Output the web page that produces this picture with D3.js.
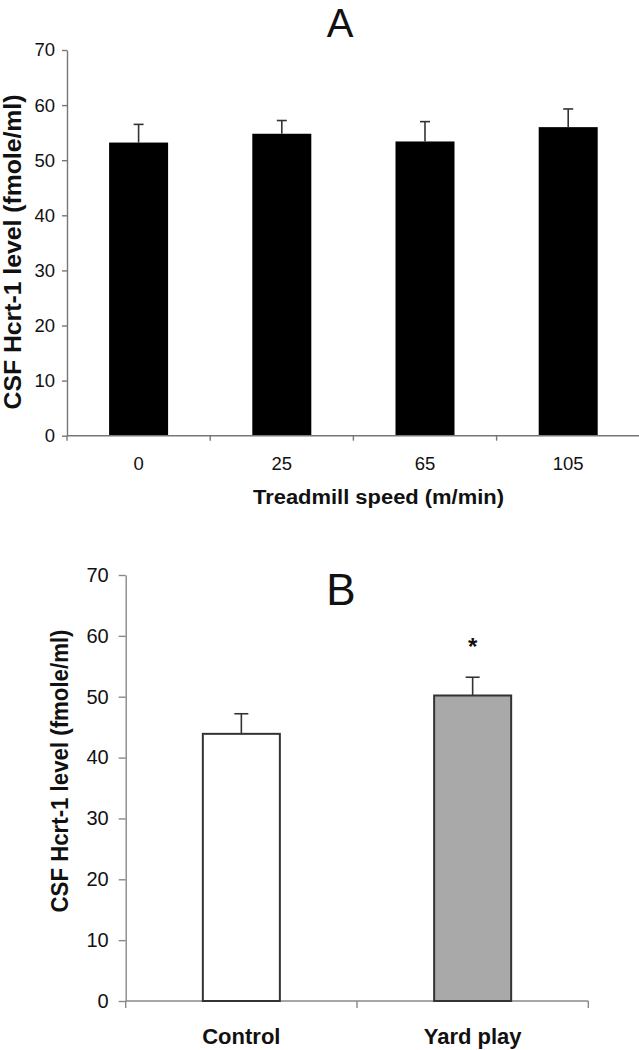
<!DOCTYPE html>
<html>
<head>
<meta charset="utf-8">
<script src="https://cdn.jsdelivr.net/npm/d3@7"></script>
<style>
  html, body { margin: 0; padding: 0; background: #fff; }
  svg { display: block; }
  text { font-family: "Liberation Sans", Arial, sans-serif; fill: #111; }
</style>
</head>
<body>
<svg id="chart" width="639" height="1050"></svg>
<script>
// ---- data ----
const categoriesA = ["0", "25", "65", "105"];
const meansA = [53.2, 54.8, 53.4, 56.0];
const semA = [3.3, 2.4, 3.6, 3.3];

const categoriesB = ["Control", "Yard play"];
const meansB = [43.9, 50.2];
const semB = [3.3, 3.0];
const significantB = [false, true];

const yTickValues = [0, 10, 20, 30, 40, 50, 60, 70];
const yLabel = "CSF Hcrt-1 level (fmole/ml)";
const xLabelA = "Treadmill speed (m/min)";

// ---- styles ----
const fillA = "#000";
const fillsB = ["#ffffff", "#a9a9a9"];
const axisColor = "#777";

const svg = d3.select("#chart");

// ===== Panel A =====
const yA = d3.scaleLinear().domain([0, 70]).range([435.7, 50]);
const innerA = 0.588;
const xA = d3.scaleBand().domain(categoriesA).range([67, 639.8])
  .paddingInner(innerA).paddingOuter(innerA / 2);
const gA = svg.append("g");

gA.append("text").attr("x", 340).attr("y", 37).attr("text-anchor", "middle")
  .style("font-size", "40px").text("A");

// y axis
const yAxisA = gA.append("g").attr("transform", "translate(67,0)")
  .call(d3.axisLeft(yA).tickValues(yTickValues).tickSize(5).tickSizeOuter(0).tickPadding(7));
yAxisA.selectAll("path,line").attr("stroke", axisColor).attr("stroke-width", 1.4);
yAxisA.selectAll("text").style("font-size", "18.5px").attr("fill", "#111");

// bars
gA.selectAll("rect.barA").data(categoriesA).join("rect")
  .attr("x", d => xA(d)).attr("width", xA.bandwidth())
  .attr("y", (d, i) => yA(meansA[i]))
  .attr("height", (d, i) => yA(0) - yA(meansA[i]))
  .attr("fill", fillA);

// error bars
categoriesA.forEach((d, i) => {
  const cx = xA(d) + xA.bandwidth() / 2;
  gA.append("line").attr("x1", cx).attr("x2", cx)
    .attr("y1", yA(meansA[i])).attr("y2", yA(meansA[i] + semA[i]))
    .attr("stroke", "#333").attr("stroke-width", 1.6);
  gA.append("line").attr("x1", cx - 5).attr("x2", cx + 5)
    .attr("y1", yA(meansA[i] + semA[i])).attr("y2", yA(meansA[i] + semA[i]))
    .attr("stroke", "#333").attr("stroke-width", 1.6);
});

// x axis
const stepA = xA.step();
const xAxisA = gA.append("g").attr("transform", `translate(0,${yA(0)})`);
xAxisA.append("line").attr("x1", xA.range()[0]).attr("x2", xA.range()[1])
  .attr("stroke", axisColor).attr("stroke-width", 1.4);
d3.range(categoriesA.length + 1).forEach(i => {
  const bx = xA.range()[0] + i * stepA;
  xAxisA.append("line").attr("x1", bx).attr("x2", bx).attr("y1", 0).attr("y2", 5)
    .attr("stroke", axisColor).attr("stroke-width", 1.4);
});
xAxisA.call(g => g.selectAll("text.tl").data(categoriesA).join("text")
  .attr("class", "tl")
  .attr("x", d => xA(d) + xA.bandwidth() / 2).attr("y", 34)
  .attr("text-anchor", "middle").style("font-size", "18.5px").text(d => d));

gA.append("text").attr("x", 378.5).attr("y", 504).attr("text-anchor", "middle")
  .style("font-size", "20px").style("font-weight", "bold")
  .attr("textLength", 251).attr("lengthAdjust", "spacingAndGlyphs")
  .text(xLabelA);

gA.append("text").attr("transform", "translate(21,252) rotate(-90)")
  .attr("text-anchor", "middle").style("font-size", "23px").style("font-weight", "bold")
  .attr("textLength", 315).attr("lengthAdjust", "spacingAndGlyphs")
  .text(yLabel);

// ===== Panel B =====
const yB = d3.scaleLinear().domain([0, 70]).range([1001, 575]);
const innerB = 0.667;
const xB = d3.scaleBand().domain(categoriesB).range([125.7, 588.3])
  .paddingInner(innerB).paddingOuter(innerB / 2);
const gB = svg.append("g");

gB.append("text").attr("x", 341).attr("y", 605).attr("text-anchor", "middle")
  .style("font-size", "44px").text("B");

const yAxisB = gB.append("g").attr("transform", "translate(125.7,0)")
  .call(d3.axisLeft(yB).tickValues(yTickValues).tickSize(7).tickSizeOuter(0).tickPadding(10));
yAxisB.selectAll("path,line").attr("stroke", "#888").attr("stroke-width", 1.4);
yAxisB.selectAll("text").style("font-size", "20px").attr("fill", "#111");

// x axis B
const stepB = xB.step();
const xAxisB = gB.append("g").attr("transform", `translate(0,${yB(0)})`);
xAxisB.append("line").attr("x1", xB.range()[0]).attr("x2", xB.range()[1])
  .attr("stroke", "#888").attr("stroke-width", 1.4);
d3.range(categoriesB.length + 1).forEach(i => {
  const bx = xB.range()[0] + i * stepB;
  xAxisB.append("line").attr("x1", bx).attr("x2", bx).attr("y1", 0).attr("y2", 7)
    .attr("stroke", "#888").attr("stroke-width", 1.4);
});

// bars B
gB.selectAll("rect.barB").data(categoriesB).join("rect")
  .attr("x", d => xB(d)).attr("width", xB.bandwidth())
  .attr("y", (d, i) => yB(meansB[i]))
  .attr("height", (d, i) => yB(0) - yB(meansB[i]))
  .attr("fill", (d, i) => fillsB[i])
  .attr("stroke", "#333").attr("stroke-width", 2);

categoriesB.forEach((d, i) => {
  const cx = xB(d) + xB.bandwidth() / 2;
  gB.append("line").attr("x1", cx).attr("x2", cx)
    .attr("y1", yB(meansB[i])).attr("y2", yB(meansB[i] + semB[i]))
    .attr("stroke", "#333").attr("stroke-width", 1.6);
  gB.append("line").attr("x1", cx - 7).attr("x2", cx + 7)
    .attr("y1", yB(meansB[i] + semB[i])).attr("y2", yB(meansB[i] + semB[i]))
    .attr("stroke", "#333").attr("stroke-width", 1.6);
  if (significantB[i]) {
    gB.append("text").attr("x", cx).attr("y", yB(meansB[i] + semB[i]) - 22)
      .attr("text-anchor", "middle").style("font-size", "24px").style("font-weight", "bold")
      .text("*");
  }
});

gB.selectAll("text.xl").data(categoriesB).join("text").attr("class", "xl")
  .attr("x", d => xB(d) + xB.bandwidth() / 2).attr("y", 1044)
  .attr("text-anchor", "middle").style("font-size", "22px").style("font-weight", "bold")
  .text(d => d);

gB.append("text").attr("transform", "translate(68,771) rotate(-90)")
  .attr("text-anchor", "middle").style("font-size", "23px").style("font-weight", "bold")
  .attr("textLength", 283).attr("lengthAdjust", "spacingAndGlyphs")
  .text(yLabel);
</script>
</body>
</html>
